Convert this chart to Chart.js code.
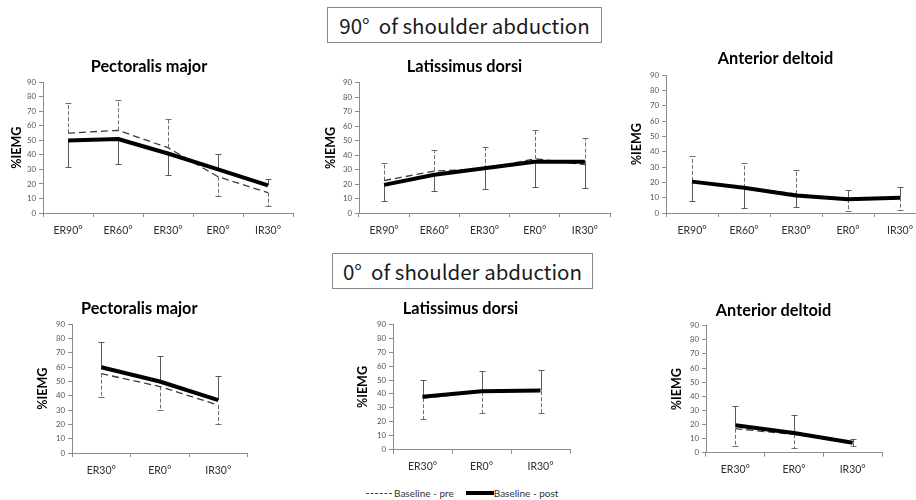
<!DOCTYPE html>
<html>
<head>
<meta charset="utf-8">
<script src="https://cdn.jsdelivr.net/npm/chart.js@4.4.0/dist/chart.umd.min.js"></script>
<style>
  html, body { margin: 0; padding: 0; background: #ffffff; }
  body { width: 916px; height: 500px; overflow: hidden; position: relative; }
  canvas { position: absolute; }
  .hdr { position: absolute; box-sizing: border-box; border: 1px solid #8a8a8a; background: #fff;
         font-family: "Noto Sans CJK JP", "Noto Sans", sans-serif; font-size: 20.5px; color: #1a1a1a;
         display: flex; align-items: center; justify-content: center; white-space: pre; }
  .legend { position: absolute; top: 486px; left: 366px; height: 14px; display: flex; align-items: center;
            font-family: Lato, "Noto Sans", sans-serif; font-size: 10px; color: #333; }
  .lg-dash { width: 26px; height: 0; border-top: 1.3px dashed #404040; margin-right: 2px; }
  .lg-solid { width: 28px; height: 4px; background: #000; margin-left: 12px; }
</style>
</head>
<body>
<div class="hdr" style="left:327px;top:7px;width:275px;height:36px;">90°  of shoulder abduction</div>
<div class="hdr" style="left:332px;top:253px;width:261px;height:36px;">0°  of shoulder abduction</div>

<canvas id="c1"></canvas>
<canvas id="c2"></canvas>
<canvas id="c3"></canvas>
<canvas id="c4"></canvas>
<canvas id="c5"></canvas>
<canvas id="c6"></canvas>

<div class="legend"><div class="lg-dash"></div><span>Baseline - pre</span><div class="lg-solid"></div><span>Baseline - post</span></div>

<script>
// ---------- DATA ----------
const anglesAbd90 = ['ER90°', 'ER60°', 'ER30°', 'ER0°', 'IR30°'];
const anglesAbd0  = ['ER30°', 'ER0°', 'IR30°'];
const seriesNames = ['Baseline - pre', 'Baseline - post'];
const yAxisLabel  = '%IEMG';

// 90° of shoulder abduction
const pecMajor90Pre     = [55, 57, 45, 25, 14];
const pecMajor90Post    = [50, 51, 41, 30, 19];
const pecMajor90PreEnd  = [76, 78, 65, 12, 5];      // error-bar end points
const pecMajor90PostEnd = [32, 34, 26, 41, 23.5];

const latDorsi90Pre     = [22.5, 29, 30.5, 37.5, 33.5];
const latDorsi90Post    = [19.5, 26.5, 31, 35.5, 35.5];
const latDorsi90PreEnd  = [34.5, 43.5, 45.5, 57.5, 51.5];
const latDorsi90PostEnd = [8.5, 15, 16.5, 18, 17.5];

const antDelt90Pre      = [21, 16.5, 12.5, 9, 10];
const antDelt90Post     = [20.5, 16.5, 11.5, 9, 10];
const antDelt90PreEnd   = [37, 33, 28, 1.5, 2];
const antDelt90PostEnd  = [8, 3.5, 4, 15, 17];

// 0° of shoulder abduction
const pecMajor0Pre      = [55.5, 46.5, 33.5];
const pecMajor0Post     = [60, 50, 37];
const pecMajor0PreEnd   = [39, 30, 20];
const pecMajor0PostEnd  = [77.5, 68, 54];

const latDorsi0Pre      = [37, 41.5, 42];
const latDorsi0Post     = [38, 42, 42.5];
const latDorsi0PreEnd   = [22, 26, 26];
const latDorsi0PostEnd  = [50, 56.5, 57.5];

const antDelt0Pre       = [17, 13, 7];
const antDelt0Post      = [19.5, 14, 7];
const antDelt0PreEnd    = [5, 3.5, 5];
const antDelt0PostEnd   = [33, 26.5, 10];

// ---------- LAYOUT (pixel geometry of each panel) ----------
const layouts = {
  c1: { x0: 43,  x1: 293, yTop: 82.4,  yBot: 213,   titleX: 152, titleY: 67,  yLabelX: 17 },
  c2: { x0: 359, x1: 610, yTop: 82.6,  yBot: 213.2, titleX: 468, titleY: 67,  yLabelX: 331 },
  c3: { x0: 666, x1: 926, yTop: 75.3,  yBot: 213,   titleX: 785, titleY: 59,  yLabelX: 637 },
  c4: { x0: 72,  x1: 247.5, yTop: 324.3, yBot: 453, titleX: 157, titleY: 309, yLabelX: 43 },
  c5: { x0: 393, x1: 570, yTop: 324.3, yBot: 449.7, titleX: 477, titleY: 309, yLabelX: 363 },
  c6: { x0: 706, x1: 882, yTop: 325.7, yBot: 452.7, titleX: 790, titleY: 311, yLabelX: 677 }
};

// ---------- error bar plugin ----------
const errorBarPlugin = {
  id: 'errorBars',
  beforeDatasetsDraw(chart) {
    const { ctx, scales: { x, y } } = chart;
    chart.data.datasets.forEach((ds) => {
      if (!ds.barEnds) return;
      ctx.save();
      ctx.strokeStyle = ds.barColor;
      ctx.lineWidth = 1;
      ds.data.forEach((v, i) => {
        const end = ds.barEnds[i];
        if (end == null) return;
        const px = Math.round(x.getPixelForValue(i)) + 0.5;
        const p0 = y.getPixelForValue(v);
        const p1 = Math.round(y.getPixelForValue(end)) + 0.5;
        ctx.setLineDash(ds.barDash);
        ctx.beginPath(); ctx.moveTo(px, p0); ctx.lineTo(px, p1); ctx.stroke();
        ctx.setLineDash([]);
        ctx.beginPath(); ctx.moveTo(px - 3, p1); ctx.lineTo(px + 3, p1); ctx.stroke();
      });
      ctx.restore();
    });
  }
};

const AXIS_GRAY = '#8c8c8c';
const TITLE_SIZE = 16.3, TITLE_LH = TITLE_SIZE * 1.2;
const YT_SIZE = 12.5, YT_LH = YT_SIZE * 1.2;

function makePanel(id, title, labels, pre, post, preEnd, postEnd) {
  const L = layouts[id];
  const canvas = document.getElementById(id);
  const left = Math.round(L.yLabelX - 12);
  const width = Math.round(2 * (L.titleX - left));
  const top = Math.round(L.titleY - TITLE_LH / 2 - 2);
  const padTop = L.titleY - TITLE_LH / 2 - top;
  const padBottom = L.yTop - top - padTop - TITLE_LH;
  const height = Math.round(L.yBot - top + 30);
  const xAxisH = height - (L.yBot - top);
  const yAxisW = L.x0 - left;
  const rightPad = width - (L.x1 - left);

  canvas.width = width; canvas.height = height;
  canvas.style.left = left + 'px'; canvas.style.top = top + 'px';
  canvas.style.width = width + 'px'; canvas.style.height = height + 'px';

  new Chart(canvas, {
    type: 'line',
    data: {
      labels: labels,
      datasets: [
        { label: seriesNames[0], data: pre, borderColor: '#3c3c3c', borderWidth: 1.3, borderDash: [7, 4],
          pointRadius: 0, tension: 0, order: 1,
          barEnds: preEnd, barColor: '#6e6e6e', barDash: [4, 2] },
        { label: seriesNames[1], data: post, borderColor: '#000000', borderWidth: 4,
          borderJoinStyle: 'round', pointRadius: 0, tension: 0, order: 0,
          barEnds: postEnd, barColor: '#5a5a5a', barDash: [] }
      ]
    },
    options: {
      responsive: false,
      animation: false,
      devicePixelRatio: 1,
      layout: { padding: { left: 0, top: 0, bottom: 0, right: rightPad } },
      plugins: {
        legend: { display: false },
        tooltip: { enabled: false },
        title: {
          display: true, text: title, color: '#000',
          font: { family: 'Lato', size: TITLE_SIZE, weight: 'bold', lineHeight: 1.2 },
          padding: { top: padTop, bottom: padBottom }
        }
      },
      scales: {
        x: {
          type: 'category', offset: true,
          grid: { offset: true, drawOnChartArea: false, drawTicks: true, tickLength: 4, color: AXIS_GRAY },
          border: { display: true, color: AXIS_GRAY, width: 1 },
          ticks: { color: '#2e2e2e', padding: 7, autoSkip: false, maxRotation: 0,
                   font: { family: 'Lato', size: 10.5, lineHeight: 1.2 } },
          afterFit: (s) => { s.height = xAxisH; }
        },
        y: {
          min: 0, max: 90,
          grid: { drawOnChartArea: false, drawTicks: true, tickLength: 4, color: AXIS_GRAY },
          border: { display: true, color: AXIS_GRAY, width: 1 },
          ticks: { stepSize: 10, color: '#555', padding: 3,
                   font: { family: 'Lato', size: 7.8, lineHeight: 1.2 } },
          title: { display: true, text: yAxisLabel, color: '#000',
                   font: { family: 'Lato', size: YT_SIZE, weight: 'bold', lineHeight: 1.2 },
                   padding: { top: L.yLabelX - left - YT_LH / 2, bottom: 0 } },
          afterFit: (s) => { s.width = yAxisW; }
        }
      }
    },
    plugins: [errorBarPlugin]
  });
}

makePanel('c1', 'Pectoralis major',  anglesAbd90, pecMajor90Pre, pecMajor90Post, pecMajor90PreEnd, pecMajor90PostEnd);
makePanel('c2', 'Latissimus dorsi',  anglesAbd90, latDorsi90Pre, latDorsi90Post, latDorsi90PreEnd, latDorsi90PostEnd);
makePanel('c3', 'Anterior deltoid',  anglesAbd90, antDelt90Pre,  antDelt90Post,  antDelt90PreEnd,  antDelt90PostEnd);
makePanel('c4', 'Pectoralis major',  anglesAbd0,  pecMajor0Pre,  pecMajor0Post,  pecMajor0PreEnd,  pecMajor0PostEnd);
makePanel('c5', 'Latissimus dorsi',  anglesAbd0,  latDorsi0Pre,  latDorsi0Post,  latDorsi0PreEnd,  latDorsi0PostEnd);
makePanel('c6', 'Anterior deltoid',  anglesAbd0,  antDelt0Pre,   antDelt0Post,   antDelt0PreEnd,   antDelt0PostEnd);
</script>
</body>
</html>
